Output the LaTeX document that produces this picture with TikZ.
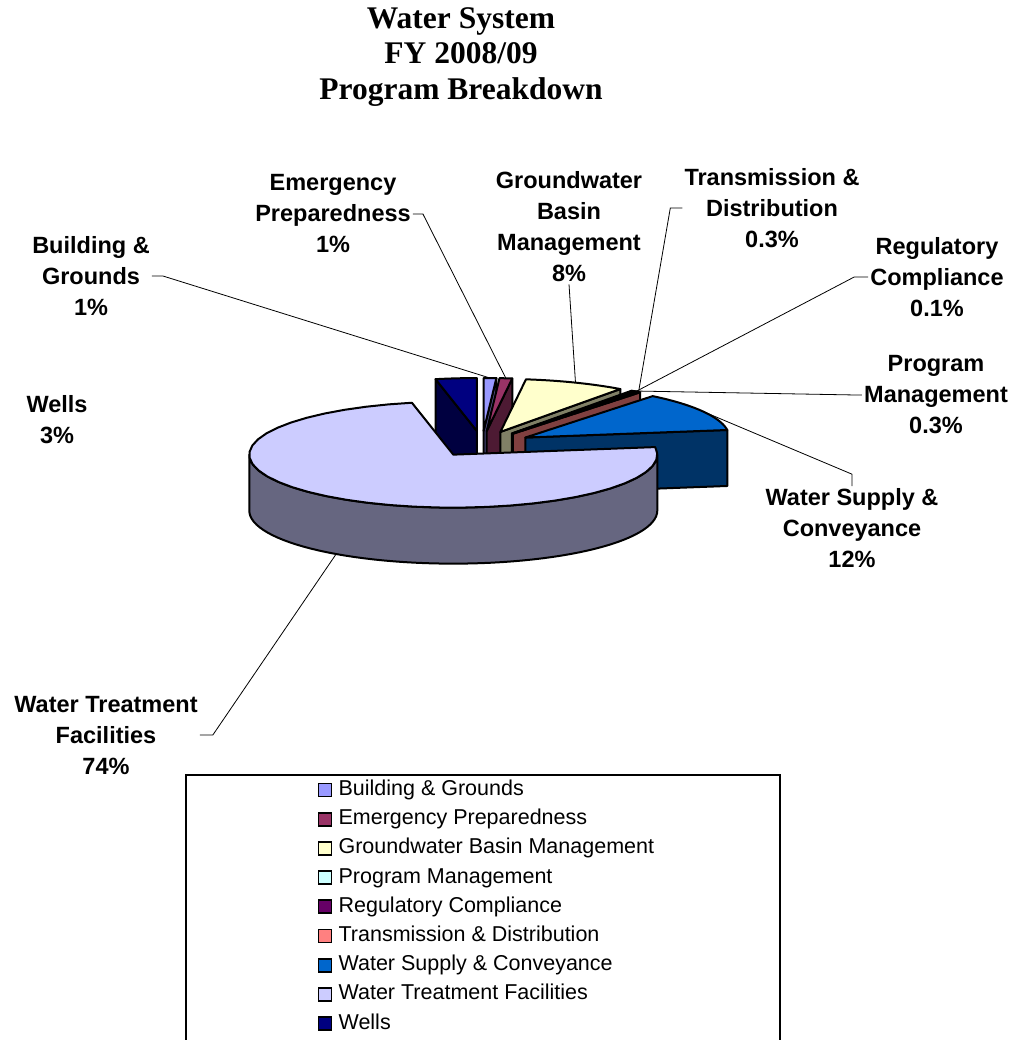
\documentclass[tikz,border=0pt]{standalone}
\usepackage{fontspec}
\setmainfont{Liberation Sans}
\newfontfamily\titlefont{Liberation Serif}
\usetikzlibrary{calc,positioning}

\definecolor{bldgtop}{HTML}{9999FF}
\definecolor{bldgside}{HTML}{4D4D80}
\definecolor{emergtop}{HTML}{993366}
\definecolor{emergside}{HTML}{4D1A33}
\definecolor{gwbmtop}{HTML}{FFFFCC}
\definecolor{gwbmside}{HTML}{808066}
\definecolor{progtop}{HTML}{CCFFFF}
\definecolor{progside}{HTML}{668080}
\definecolor{regtop}{HTML}{660066}
\definecolor{regside}{HTML}{330033}
\definecolor{transtop}{HTML}{FF8080}
\definecolor{transside}{HTML}{804040}
\definecolor{supplytop}{HTML}{0066CC}
\definecolor{supplyside}{HTML}{003366}
\definecolor{treattop}{HTML}{CCCCFF}
\definecolor{treatside}{HTML}{666680}
\definecolor{wellstop}{HTML}{000080}
\definecolor{wellsside}{HTML}{000040}

\tikzset{
    slice/.style={draw=black, line width=2pt, line join=round},
    lbl/.style={font=\bfseries\fontsize{23.5}{31}\selectfont, align=center, inner sep=2pt},
    leader/.style={draw=black, line width=0.8pt},
    legbox/.style={draw=black, line width=1.2pt},
    legkey/.style={draw=black, line width=1.8pt, minimum size=13pt, inner sep=0pt},
    legtext/.style={font=\fontsize{21.5}{25}\selectfont, inner sep=0pt, text height=15pt, text depth=4pt}
}

% one exploded slice: start, end, top colour, side colour, name
\newcommand\pieslice[5]{%
    \pgfmathsetmacro\slmid{(#1+#2)/2}
    \pgfmathsetmacro\slx{482+50*sin(\slmid)}
    \pgfmathsetmacro\sly{444-13*cos(\slmid)}
    \coordinate (#5-c) at (\slx,\sly);
    \coordinate (#5-a) at ({\slx+204*sin(#1)},{\sly-53*cos(#1)});
    \coordinate (#5-b) at ({\slx+204*sin(#2)},{\sly-53*cos(#2)});
    \coordinate (#5-m) at ({\slx+204*sin(\slmid)},{\sly-53*cos(\slmid)});
    \pgfmathsetmacro\sla{sin(#1)}
    \ifdim\sla pt<-0.01pt
        \filldraw[slice, fill=#4] (#5-c) -- (#5-a) -- ($(#5-a)+(0,56)$) -- ($(#5-c)+(0,56)$) -- cycle;
    \fi
    \pgfmathsetmacro\slb{sin(#2)}
    \ifdim\slb pt>0.01pt
        \filldraw[slice, fill=#4] (#5-c) -- (#5-b) -- ($(#5-b)+(0,56)$) -- ($(#5-c)+(0,56)$) -- cycle;
    \fi
    \pgfmathsetmacro\sls{max(#1,90)}
    \pgfmathsetmacro\sle{min(#2,270)}
    \ifdim\sle pt>\sls pt
        \filldraw[slice, fill=#4]
            plot[domain=\sls:\sle, samples=60] ({\slx+204*sin(\x)},{\sly-53*cos(\x)})
            -- plot[domain=\sle:\sls, samples=60] ({\slx+204*sin(\x)},{\sly+56-53*cos(\x)})
            -- cycle;
    \fi
    \filldraw[slice, fill=#3] (#5-c) -- plot[domain=#1:#2, samples=40] ({\slx+204*sin(\x)},{\sly-53*cos(\x)}) -- cycle;
}

\begin{document}
\begin{tikzpicture}[x=1pt, y=-1pt]
    \useasboundingbox (0,0) rectangle (1014,1040);

    \node[
        font=\titlefont\bfseries\fontsize{31.5}{35.5}\selectfont,
        align=center,
        name=title
    ] at (461,57) {Water System\\FY 2008/09\\Program Breakdown};

    % pie, back slices first
    \pieslice{348.3}{360}{wellstop}{wellsside}{wells}
    \pieslice{0}{3.6}{bldgtop}{bldgside}{bldg}
    \pieslice{3.6}{7.2}{emergtop}{emergside}{emerg}
    \pieslice{7.2}{36}{gwbmtop}{gwbmside}{gwbm}
    \pieslice{36}{37.1}{progtop}{progside}{prog}
    \pieslice{37.1}{37.5}{regtop}{regside}{reg}
    \pieslice{37.5}{38.6}{transtop}{transside}{trans}
    \pieslice{38.6}{81.8}{supplytop}{supplyside}{supply}
    \pieslice{81.8}{348.3}{treattop}{treatside}{treat}
    \coordinate (treat-low) at ($(treat-m)+(0,56)$);

    % labels
    \node[lbl] (bldglbl) at (91,276) {Building \&\\Grounds\\1\%};
    \node[lbl] (emerglbl) at (333,214) {Emergency\\Preparedness\\1\%};
    \node[lbl] (gwbmlbl) at (569,227) {Groundwater\\Basin\\Management\\8\%};
    \node[lbl] (translbl) at (772,208) {Transmission \&\\Distribution\\0.3\%};
    \node[lbl] (reglbl) at (937,277) {Regulatory\\Compliance\\0.1\%};
    \node[lbl] (proglbl) at (936,395) {Program\\Management\\0.3\%};
    \node[lbl] (supplylbl) at (852,528) {Water Supply \&\\Conveyance\\12\%};
    \node[lbl] (treatlbl) at (106,735) {Water Treatment\\Facilities\\74\%};
    \node[lbl] (wellslbl) at (57,420) {Wells\\3\%};

    \draw[leader] (bldglbl.east) -- ++(11,0) -- (bldg-m);
    \draw[leader] (emerglbl.east) -- ++(10,0) -- (emerg-m);
    \draw[leader] (gwbmlbl.south) -- (gwbm-m);
    \draw[leader] (translbl.west) -- ++(-12,0) -- (trans-m);
    \draw[leader] (reglbl.west) -- ++(-14,0) -- (reg-m);
    \draw[leader] (proglbl.west) -- ++(-6,0) -- (prog-m);
    \draw[leader] (supplylbl.north) -- ++(0,-12) -- (supply-m);
    \draw[leader] (treatlbl.east) -- ++(13,0) -- (treat-low);

    % legend
    \draw[legbox] (186,1040) -- (186,775) -- (780,775) -- (780,1040);

    \node[legkey, fill=bldgtop] (key1) at (325,790) {};
    \node[legtext, right=6pt of key1] (leg1) {Building \& Grounds};
    \node[legkey, fill=emergtop] (key2) at (325,819.2) {};
    \node[legtext, right=6pt of key2] (leg2) {Emergency Preparedness};
    \node[legkey, fill=gwbmtop] (key3) at (325,848.4) {};
    \node[legtext, right=6pt of key3] (leg3) {Groundwater Basin Management};
    \node[legkey, fill=progtop] (key4) at (325,877.6) {};
    \node[legtext, right=6pt of key4] (leg4) {Program Management};
    \node[legkey, fill=regtop] (key5) at (325,906.8) {};
    \node[legtext, right=6pt of key5] (leg5) {Regulatory Compliance};
    \node[legkey, fill=transtop] (key6) at (325,936) {};
    \node[legtext, right=6pt of key6] (leg6) {Transmission \& Distribution};
    \node[legkey, fill=supplytop] (key7) at (325,965.2) {};
    \node[legtext, right=6pt of key7] (leg7) {Water Supply \& Conveyance};
    \node[legkey, fill=treattop] (key8) at (325,994.4) {};
    \node[legtext, right=6pt of key8] (leg8) {Water Treatment Facilities};
    \node[legkey, fill=wellstop] (key9) at (325,1023.6) {};
    \node[legtext, right=6pt of key9] (leg9) {Wells};
\end{tikzpicture}
\end{document}
